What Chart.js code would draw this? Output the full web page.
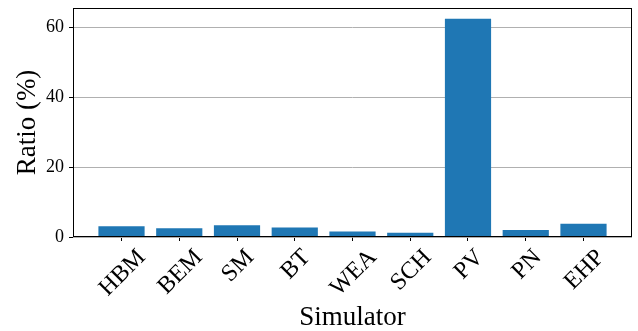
<!DOCTYPE html>
<html>
<head>
<meta charset="utf-8">
<script src="https://cdn.jsdelivr.net/npm/chart.js@4/dist/chart.umd.min.js"></script>
<style>
  html, body { margin: 0; padding: 0; background: #fff; }
</style>
</head>
<body>
<canvas id="chart" width="638" height="331"></canvas>
<script>
// Simulator share of total ratio (%)
var simulators = ['HBM', 'BEM', 'SM', 'BT', 'WEA', 'SCH', 'PV', 'PN', 'EHP'];
var ratios = [3.1, 2.5, 3.35, 2.7, 1.6, 1.25, 62.4, 2.0, 3.8];
var yTicks = [0, 20, 40, 60];

var SERIF = '"Liberation Serif", "DejaVu Serif", serif';

// matplotlib draws a full box round the axes and centres rotated tick labels
// under each tick; Chart.js right-aligns rotated labels, so draw them here.
var frameAndLabels = {
  id: 'frameAndLabels',
  afterDatasetsDraw: function(chart) {
    var ctx = chart.ctx, a = chart.chartArea, xs = chart.scales.x;
    ctx.save();
    ctx.strokeStyle = '#000';
    ctx.lineWidth = 1;
    ctx.strokeRect(a.left + 0.5, a.top + 0.5, a.right - a.left - 1, a.bottom - a.top - 1);

    ctx.fillStyle = '#000';
    ctx.font = '24px ' + SERIF;
    var cap = 24 * 0.66;
    simulators.forEach(function(s, i) {
      var x = xs.getPixelForValue(i);
      var w = ctx.measureText(s).width;
      var half = (w + cap) * Math.SQRT1_2 / 2;
      ctx.save();
      ctx.translate(x, a.bottom + 10 + half);
      ctx.rotate(-Math.PI / 4);
      ctx.textAlign = 'center';
      ctx.textBaseline = 'alphabetic';
      ctx.fillText(s, 0, cap / 2);
      ctx.restore();
    });

    ctx.font = '27px ' + SERIF;
    ctx.textAlign = 'center';
    ctx.textBaseline = 'alphabetic';
    ctx.fillText('Simulator', (a.left + a.right) / 2, 325);
    ctx.restore();
  }
};

new Chart(document.getElementById('chart'), {
  type: 'bar',
  data: {
    datasets: [{
      data: ratios.map(function(v, i) { return { x: i, y: v }; }),
      backgroundColor: '#1f77b4',
      borderWidth: 0,
      barPercentage: 0.8,
      categoryPercentage: 1.0
    }]
  },
  options: {
    responsive: false,
    animation: false,
    devicePixelRatio: 1,
    layout: { padding: { left: 0, top: 8, right: 6, bottom: 90 } },
    plugins: { legend: { display: false }, tooltip: { enabled: false } },
    scales: {
      x: {
        type: 'linear',
        offset: false,
        min: -0.84,
        max: 8.84,
        afterBuildTicks: function(sc) {
          sc.ticks = simulators.map(function(_, i) { return { value: i }; });
        },
        grid: { offset: false, drawOnChartArea: false, tickLength: 4, tickColor: '#000' },
        border: { display: false },
        ticks: { display: false }
      },
      y: {
        min: 0,
        max: 65.5,
        afterBuildTicks: function(sc) {
          sc.ticks = yTicks.map(function(v) { return { value: v }; });
        },
        afterFit: function(sc) {
          sc.width = 73;
          sc.paddingTop = 0;
          sc.paddingBottom = 0;
        },
        grid: { color: '#b0b0b0', lineWidth: 1, tickLength: 4, tickColor: '#000' },
        border: { display: false },
        ticks: {
          color: '#000',
          padding: 5,
          font: { family: SERIF, size: 18 }
        },
        title: {
          display: true,
          text: 'Ratio (%)',
          color: '#000',
          font: { family: SERIF, size: 27 },
          padding: { top: 12, bottom: 0 }
        }
      }
    }
  },
  plugins: [frameAndLabels]
});
</script>
</body>
</html>
